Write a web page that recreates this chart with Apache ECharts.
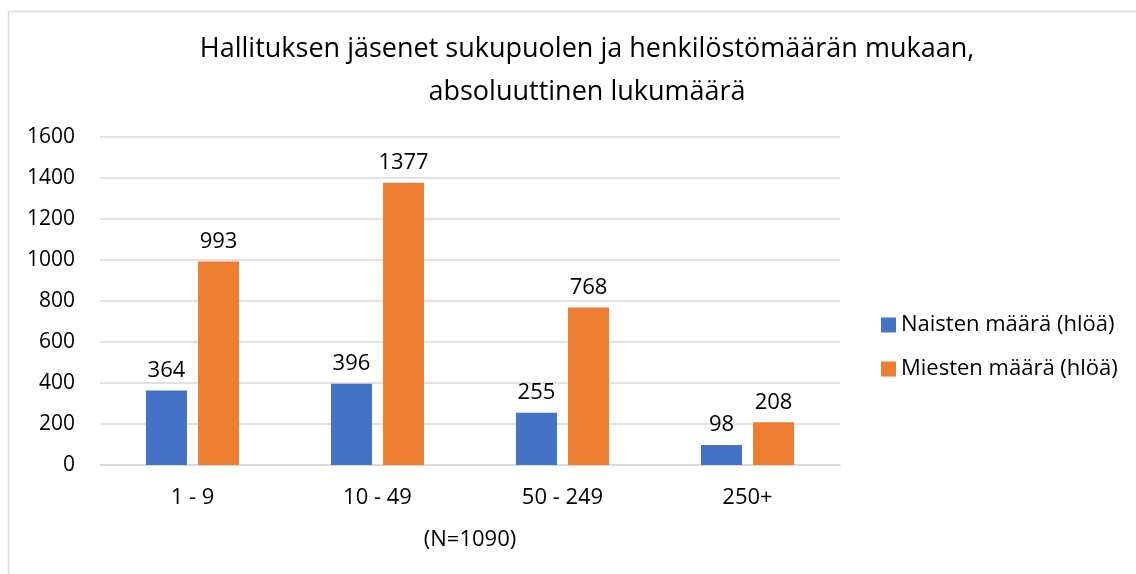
<!DOCTYPE html>
<html>
<head>
<meta charset="utf-8">
<script src="https://cdn.jsdelivr.net/npm/echarts@6/dist/echarts.min.js"></script>
<style>
  html, body { margin: 0; padding: 0; background: #fff; }
  #chart { width: 1136px; height: 574px; }
</style>
</head>
<body>
<div id="chart"></div>
<script>
const categories = ['1 - 9', '10 - 49', '50 - 249', '250+'];
const naiset = [364, 396, 255, 98];
const miehet = [993, 1377, 768, 208];
const seriesNames = ['Naisten määrä (hlöä)', 'Miesten määrä (hlöä)'];

const font = 'Open Sans, Noto Sans, sans-serif';
const chart = echarts.init(document.getElementById('chart'));

chart.setOption({
  animation: false,
  textStyle: { fontFamily: font, color: '#000' },
  title: {
    text: 'Hallituksen jäsenet sukupuolen ja henkilöstömäärän mukaan,\nabsoluuttinen lukumäärä',
    left: 582, top: 23, textAlign: 'center',
    textStyle: { fontSize: 27, fontWeight: 'normal', color: '#000', lineHeight: 43, fontFamily: font }
  },
  graphic: [{
    type: 'rect', shape: { x: 8.5, y: 11.5, width: 1200, height: 700 },
    style: { fill: 'none', stroke: '#d9d9d9', lineWidth: 1.5 }, silent: true
  }],
  legend: {
    orient: 'vertical', left: 876, top: 309, itemGap: 22,
    itemWidth: 15, itemHeight: 15, icon: 'rect',
    textStyle: { fontSize: 22, color: '#000', fontFamily: font }
  },
  grid: { left: 100, right: 296, top: 137, bottom: 109 },
  xAxis: {
    type: 'category', data: categories,
    name: '(N=1090)', nameLocation: 'middle', nameGap: 64,
    nameTextStyle: { fontSize: 22, color: '#000', fontFamily: font },
    axisLine: { lineStyle: { color: '#d9d9d9', width: 1.5 } },
    axisTick: { show: false },
    axisLabel: { fontSize: 22, color: '#000', margin: 22, fontFamily: font }
  },
  yAxis: {
    type: 'value', min: 0, max: 1600, interval: 200,
    axisLine: { show: false }, axisTick: { show: false },
    splitLine: { lineStyle: { color: '#d9d9d9', width: 1.5 } },
    axisLabel: { fontSize: 21, color: '#000', margin: 25, fontFamily: font, formatter: v => String(v) }
  },
  series: [
    {
      name: seriesNames[0], type: 'bar', data: naiset,
      barWidth: 41, barGap: '27%',
      itemStyle: { color: '#4472c4' },
      label: { show: true, position: 'top', distance: 9, fontSize: 22, color: '#000', fontFamily: font }
    },
    {
      name: seriesNames[1], type: 'bar', data: miehet,
      barWidth: 41,
      itemStyle: { color: '#ed7d31' },
      label: { show: true, position: 'top', distance: 9, fontSize: 22, color: '#000', fontFamily: font }
    }
  ]
});
</script>
</body>
</html>
